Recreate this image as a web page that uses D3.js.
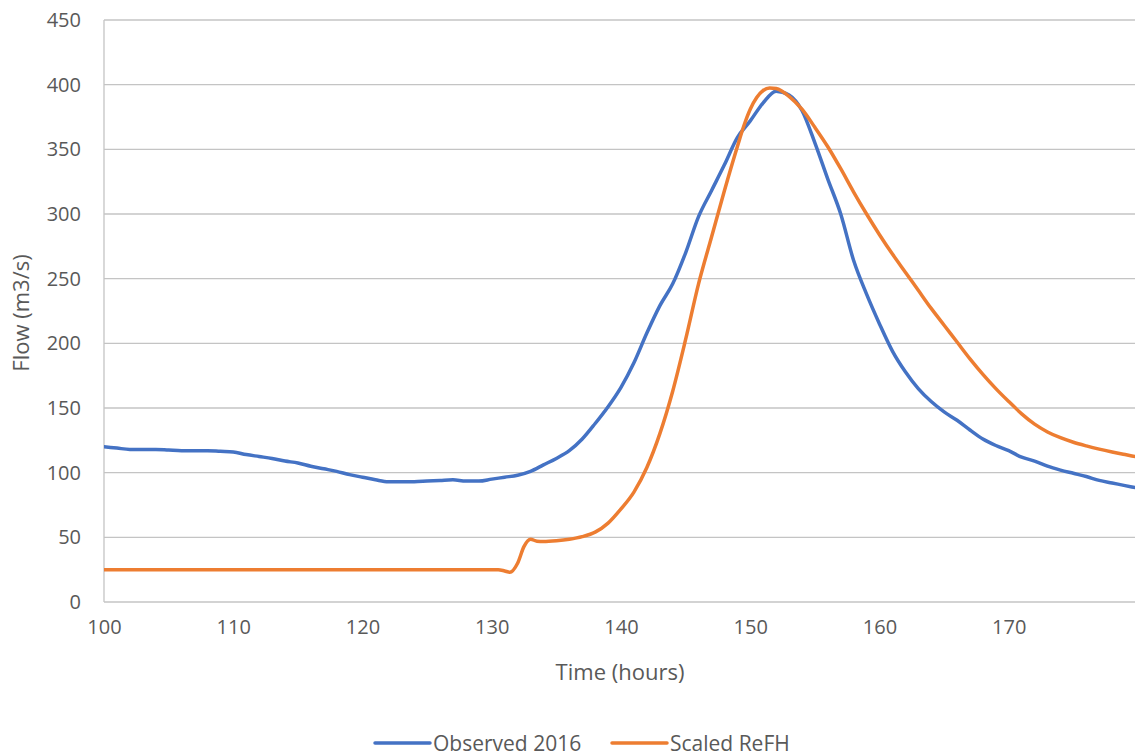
<!DOCTYPE html>
<html>
<head>
<meta charset="utf-8">
<script src="https://cdn.jsdelivr.net/npm/d3@7"></script>
<style>
  html, body { margin: 0; padding: 0; background: #fff; }
  svg { display: block; }
  text { font-family: "Open Sans", "Noto Sans", sans-serif; fill: #595959; }
</style>
</head>
<body>
<svg id="chart" width="1135" height="756"></svg>
<script>
// ---- Data ----
const observedTime = [100,101,102,103,104,105,106,107,108,109,110,111,112,113,114,115,116,117,118,119,
  120,121,122,123,124,125,126,127,128,129,130,131,132,133,134,135,136,137,138,139,
  140,141,142,143,144,145,146,147,148,149,150,151,152,153,154,155,156,157,158,159,
  160,161,162,163,164,165,166,167,168,169,170,171,172,173,174,175,176,177,178,179,180];
const observedFlow = [120,119,118,118,118,117.5,117,117,117,116.5,116,114,112.5,111,109,107.5,105,103,101,98.5,
  96.5,94.5,93,93,93,93.5,94,94.5,93.5,93.5,95,96.5,98,101,106,111,117,126,138,151,
  166,185,208,229,246,270,298,318,338,359,372,386,395,392,380,355,327,300,264,238,
  215,194,178,165,155,147,140.5,133,126,121,117,112,109,105,102,99.5,97,94,92,90,88];

const refhTime = [100,105,110,115,120,125,130,130.5,131,131.4,132,132.5,133,133.5,134,135,136,137,138,139,
  140,141,142,143,144,145,146,147,148,149,149.5,150,150.5,151,151.5,152,153,154,155,156,157,158,159,
  160,161,162,163,164,165,166,167,168,169,170,171,172,173,174,175,176,177,178,179,180];
const refhFlow = [25,25,25,25,25,25,25,25,24,23,30,43,48.5,47,46.7,47.3,48.5,50.5,54,61,
  72,85,104,130,163,203,246,282,318,352,368,381,390,395.5,397.5,397,391,381,367,352,335,317,300,
  284,269,255,241,227,214,201,188,176,165,155,145.5,137.5,131.5,127,123.5,120.7,118.2,116,114,112];

const yTicks = [0,50,100,150,200,250,300,350,400,450];
const xTicks = [100,110,120,130,140,150,160,170];
const seriesNames = ["Observed 2016", "Scaled ReFH"];
const seriesColors = ["#4472C4", "#ED7D31"];

// ---- Layout ----
const svg = d3.select("#chart");
const plotLeft = 104, plotRight = 1138, plotTop = 20, plotBottom = 602;

const x = d3.scaleLinear().domain([100, 180]).range([plotLeft, plotRight]);
const y = d3.scaleLinear().domain([0, 450]).range([plotBottom, plotTop]);

// gridlines
svg.append("g").selectAll("line").data(yTicks.filter(d => d > 0)).join("line")
  .attr("x1", plotLeft).attr("x2", 1135)
  .attr("y1", d => y(d)).attr("y2", d => y(d))
  .attr("stroke", "#C4C4C4").attr("stroke-width", 1.3);

// axes lines
svg.append("line").attr("x1", plotLeft).attr("x2", plotLeft).attr("y1", plotTop).attr("y2", plotBottom)
  .attr("stroke", "#C4C4C4").attr("stroke-width", 1.3);
svg.append("line").attr("x1", plotLeft).attr("x2", 1135).attr("y1", plotBottom).attr("y2", plotBottom)
  .attr("stroke", "#C4C4C4").attr("stroke-width", 1.3);

// y tick labels
const yAxis = d3.axisLeft(y).tickValues(yTicks).tickSize(0).tickPadding(0);
const gy = svg.append("g").attr("transform", `translate(81,0)`).call(yAxis);
gy.select(".domain").remove();
gy.selectAll("text").style("font-size", "20px").attr("fill", "#595959")
  .style("font-family", '"Open Sans", sans-serif');

// x tick labels
const xAxis = d3.axisBottom(x).tickValues(xTicks).tickSize(0).tickPadding(0);
const gx = svg.append("g").attr("transform", `translate(0,620)`).call(xAxis);
gx.select(".domain").remove();
gx.selectAll("text").style("font-size", "20px").attr("fill", "#595959")
  .style("font-family", '"Open Sans", sans-serif');

// axis titles
svg.append("text").attr("transform", "translate(29,313) rotate(-90)")
  .attr("text-anchor", "middle").style("font-size", "22px").text("Flow (m3/s)");
svg.append("text").attr("x", 620).attr("y", 680)
  .attr("text-anchor", "middle").style("font-size", "22px").text("Time (hours)");

// lines
const line = d3.line().x(d => x(d[0])).y(d => y(d[1])).curve(d3.curveMonotoneX);
svg.append("clipPath").attr("id", "clip").append("rect")
  .attr("x", plotLeft).attr("y", 0).attr("width", 1135 - plotLeft).attr("height", plotBottom + 5);

const obs = observedTime.map((t, i) => [t, observedFlow[i]]);
const refh = refhTime.map((t, i) => [t, refhFlow[i]]);

svg.append("path").datum(obs).attr("d", line).attr("fill", "none")
  .attr("stroke", seriesColors[0]).attr("stroke-width", 3.5)
  .attr("stroke-linejoin", "round").attr("stroke-linecap", "round")
  .attr("clip-path", "url(#clip)");
svg.append("path").datum(refh).attr("d", line).attr("fill", "none")
  .attr("stroke", seriesColors[1]).attr("stroke-width", 3.5)
  .attr("stroke-linejoin", "round").attr("stroke-linecap", "round")
  .attr("clip-path", "url(#clip)");

// legend
const legendPos = [375, 612];
seriesNames.forEach((name, i) => {
  const g = svg.append("g").attr("transform", `translate(${legendPos[i]},743)`);
  g.append("line").attr("x1", 0).attr("x2", 55).attr("y1", 0).attr("y2", 0)
    .attr("stroke", seriesColors[i]).attr("stroke-width", 3.5).attr("stroke-linecap", "round");
  g.append("text").attr("x", 58).attr("y", 7.5).style("font-size", "21px").text(name);
});
</script>
</body>
</html>
